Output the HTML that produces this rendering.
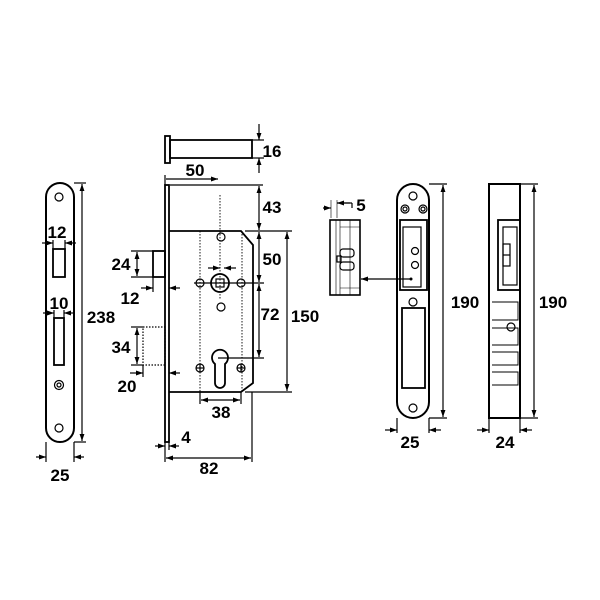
<!DOCTYPE html>
<html><head><style>body{margin:0;background:#fff}svg{display:block}</style></head><body>
<svg width="600" height="600" viewBox="0 0 600 600" xmlns="http://www.w3.org/2000/svg" font-family="Liberation Sans, Arial, sans-serif" font-weight="bold" font-size="17">
<defs>
<marker id="a" viewBox="0 0 10 10" refX="10" refY="5" markerWidth="7" markerHeight="7" markerUnits="userSpaceOnUse" orient="auto-start-reverse"><path d="M0,1.5 L10,5 L0,8.5 z" fill="#000"/></marker>
</defs>
<g fill="none" stroke="#000" stroke-width="1.2">
<!-- left faceplate -->
<rect x="46" y="183" width="28" height="259" rx="14" stroke-width="2"/>
<circle cx="59" cy="197" r="4"/><circle cx="59" cy="428" r="4"/>
<rect x="53" y="249" width="12" height="28" stroke-width="1.8"/>
<rect x="54" y="318" width="10" height="47" stroke-width="1.8"/>
<circle cx="59" cy="385" r="4.5"/><circle cx="59" cy="385" r="2"/>
<!-- dims left -->
<line x1="82" y1="184" x2="82" y2="441" marker-start="url(#a)" marker-end="url(#a)"/>
<line x1="74" y1="183" x2="86" y2="183"/><line x1="74" y1="442" x2="86" y2="442"/>
<line x1="42" y1="243" x2="53" y2="243" marker-end="url(#a)"/><line x1="76" y1="243" x2="65" y2="243" marker-end="url(#a)"/>
<line x1="53" y1="240" x2="53" y2="249"/><line x1="65" y1="240" x2="65" y2="249"/>
<line x1="43" y1="313" x2="54" y2="313" marker-end="url(#a)"/><line x1="75" y1="313" x2="64" y2="313" marker-end="url(#a)"/>
<line x1="54" y1="310" x2="54" y2="318"/><line x1="64" y1="310" x2="64" y2="318"/>
<line x1="46" y1="442" x2="46" y2="462"/><line x1="74" y1="442" x2="74" y2="462"/>
<line x1="36" y1="457" x2="46" y2="457" marker-end="url(#a)"/><line x1="84" y1="457" x2="74" y2="457" marker-end="url(#a)"/>
<!-- bolt top -->
<rect x="165" y="136" width="5" height="27" stroke-width="1.8"/>
<rect x="170" y="140" width="82" height="18" stroke-width="1.8"/>
<line x1="252" y1="140" x2="264" y2="140"/><line x1="252" y1="158" x2="264" y2="158"/>
<line x1="259" y1="124" x2="259" y2="140" marker-end="url(#a)"/><line x1="259" y1="173" x2="259" y2="158" marker-end="url(#a)"/>
<!-- main lock -->
<rect x="165" y="185" width="4" height="257" stroke-width="1.8"/>
<path d="M169,231 H241 L253,245 V383 L241,392 H169" stroke-width="1.8"/>
<rect x="153" y="251" width="12" height="26" stroke-width="1.8"/>
<rect x="143" y="327" width="22" height="38" stroke-dasharray="1.5,1.5"/>
<g stroke-dasharray="1.5,1.5" stroke-width="0.9">
<line x1="200" y1="231" x2="200" y2="392"/><line x1="242" y1="231" x2="242" y2="392"/>
<line x1="220" y1="195" x2="220" y2="300"/>
</g>
<circle cx="221" cy="237" r="4"/><circle cx="221" cy="307" r="4"/>
<circle cx="220" cy="283" r="9" stroke-width="1.8"/><rect x="216" y="279" width="8" height="8"/>
<circle cx="200" cy="283" r="4"/><circle cx="241" cy="283" r="4"/>
<circle cx="200" cy="368" r="4"/><circle cx="241" cy="368" r="4"/>
<line x1="196" y1="368" x2="204" y2="368"/><line x1="200" y1="364" x2="200" y2="372"/>
<line x1="237" y1="368" x2="245" y2="368"/><line x1="241" y1="364" x2="241" y2="372"/>
<line x1="194" y1="283" x2="264" y2="283"/>
<path d="M215,364 A8,8 0 1 1 225,364 V383 A5,5 0 0 1 215,383 Z" stroke-width="1.8"/>
<line x1="218" y1="358" x2="264" y2="358"/>
<!-- dims main -->
<line x1="165" y1="175" x2="165" y2="185"/>
<line x1="166" y1="179" x2="218" y2="179" marker-end="url(#a)"/>
<line x1="170" y1="185" x2="263" y2="185"/>
<line x1="245" y1="231" x2="292" y2="231"/><line x1="245" y1="392" x2="292" y2="392"/>
<line x1="259" y1="186" x2="259" y2="230" marker-start="url(#a)" marker-end="url(#a)"/>
<line x1="259" y1="232" x2="259" y2="282" marker-start="url(#a)" marker-end="url(#a)"/>
<line x1="259" y1="284" x2="259" y2="357" marker-start="url(#a)" marker-end="url(#a)"/>
<line x1="287" y1="232" x2="287" y2="391" marker-start="url(#a)" marker-end="url(#a)"/>
<line x1="208" y1="268" x2="220" y2="268" marker-end="url(#a)"/><line x1="236" y1="268" x2="224" y2="268" marker-end="url(#a)"/>
<line x1="131" y1="251" x2="153" y2="251"/><line x1="131" y1="277" x2="153" y2="277"/>
<line x1="137" y1="252" x2="137" y2="276" marker-start="url(#a)" marker-end="url(#a)"/>
<line x1="153" y1="277" x2="153" y2="292"/>
<line x1="141" y1="288" x2="153" y2="288" marker-end="url(#a)"/><line x1="180" y1="288" x2="169" y2="288" marker-end="url(#a)"/>
<line x1="131" y1="327" x2="143" y2="327"/><line x1="131" y1="365" x2="143" y2="365"/>
<line x1="137" y1="328" x2="137" y2="364" marker-start="url(#a)" marker-end="url(#a)"/>
<line x1="143" y1="365" x2="143" y2="377"/>
<line x1="130" y1="373" x2="143" y2="373" marker-end="url(#a)"/><line x1="180" y1="373" x2="169" y2="373" marker-end="url(#a)"/>
<line x1="200" y1="392" x2="200" y2="404"/><line x1="241" y1="392" x2="241" y2="404"/>
<line x1="201" y1="400" x2="240" y2="400" marker-start="url(#a)" marker-end="url(#a)"/>
<line x1="165" y1="442" x2="165" y2="462"/><line x1="169" y1="442" x2="169" y2="450"/>
<line x1="155" y1="446" x2="165" y2="446" marker-end="url(#a)"/><line x1="179" y1="446" x2="169" y2="446" marker-end="url(#a)"/>
<line x1="252" y1="392" x2="252" y2="462"/>
<line x1="166" y1="458" x2="251" y2="458" marker-start="url(#a)" marker-end="url(#a)"/>
<!-- side small -->
<rect x="330" y="220" width="30" height="75" stroke-width="1.6"/>
<line x1="336" y1="220" x2="336" y2="295" stroke-width="0.6"/><line x1="340" y1="220" x2="340" y2="295" stroke-width="0.6"/>
<line x1="350" y1="220" x2="350" y2="295" stroke-width="0.6"/><line x1="340" y1="227" x2="360" y2="227" stroke-width="0.6"/><line x1="340" y1="288" x2="360" y2="288" stroke-width="0.6"/>
<rect x="340" y="249" width="14" height="8" rx="3"/><rect x="340" y="262" width="14" height="8" rx="3"/>
<rect x="337" y="256" width="4" height="6"/>
<line x1="331" y1="200" x2="331" y2="218" stroke-width="0.6"/><line x1="337" y1="200" x2="337" y2="218" stroke-width="0.6"/>
<line x1="337" y1="203" x2="352" y2="203"/><line x1="352" y1="203" x2="352" y2="208"/>
<line x1="350" y1="203" x2="337" y2="203" marker-end="url(#a)"/>
<line x1="323" y1="208" x2="331" y2="208" marker-end="url(#a)"/>
<line x1="411" y1="279" x2="361" y2="279" marker-end="url(#a)"/>
<!-- striker -->
<path d="M397,200 A16,16 0 0 1 429,200 V402 A16,16 0 0 1 397,402 Z" stroke-width="2"/>
<circle cx="413" cy="196" r="4"/><circle cx="405" cy="209" r="4"/><circle cx="423" cy="209" r="4"/>
<circle cx="405" cy="209" r="2"/><circle cx="423" cy="209" r="2"/>
<rect x="400" y="220" width="27" height="70" stroke-width="1.8"/>
<rect x="403" y="227" width="18" height="60"/>
<circle cx="415" cy="251" r="3.5"/><circle cx="415" cy="265" r="3.5"/>
<circle cx="413" cy="302" r="4"/>
<rect x="402" y="308" width="23" height="80" stroke-width="1.8"/>
<circle cx="413" cy="408" r="4"/>
<line x1="429" y1="184" x2="447" y2="184"/><line x1="429" y1="418" x2="447" y2="418"/>
<line x1="443" y1="185" x2="443" y2="417" marker-start="url(#a)" marker-end="url(#a)"/>
<line x1="397" y1="418" x2="397" y2="433"/><line x1="429" y1="418" x2="429" y2="433"/>
<line x1="385" y1="430" x2="397" y2="430" marker-end="url(#a)"/><line x1="441" y1="430" x2="429" y2="430" marker-end="url(#a)"/>
<!-- right box -->
<rect x="489" y="184" width="31" height="234" stroke-width="2"/>
<rect x="498" y="220" width="22" height="70" stroke-width="1.8"/>
<rect x="503" y="227" width="14" height="58"/>
<rect x="503" y="244" width="7" height="22"/><line x1="503" y1="255" x2="510" y2="255"/>
<path d="M492,302 H518 V320 H492 M492,328 H518 V345 H492 M492,352 H518 V365 H492 M492,372 H518 V385 H492" stroke-width="0.9"/>
<circle cx="511" cy="327" r="4"/>
<line x1="520" y1="184" x2="538" y2="184"/><line x1="520" y1="418" x2="538" y2="418"/>
<line x1="534" y1="185" x2="534" y2="417" marker-start="url(#a)" marker-end="url(#a)"/>
<line x1="489" y1="418" x2="489" y2="433"/><line x1="520" y1="418" x2="520" y2="433"/>
<line x1="477" y1="430" x2="489" y2="430" marker-end="url(#a)"/><line x1="532" y1="430" x2="520" y2="430" marker-end="url(#a)"/>
</g>
<circle cx="411" cy="279" r="1.5" fill="#000"/>
<g fill="#000" text-anchor="middle">
<text x="57" y="238">12</text><text x="59" y="309">10</text><text x="101" y="323">238</text><text x="60" y="481">25</text>
<text x="272" y="157">16</text><text x="195" y="176">50</text>
<text x="272" y="213">43</text><text x="272" y="265">50</text><text x="270" y="320">72</text><text x="305" y="322">150</text>
<text x="121" y="270">24</text><text x="130" y="304">12</text><text x="121" y="353">34</text><text x="127" y="392">20</text>
<text x="221" y="418">38</text><text x="186" y="443">4</text><text x="209" y="474">82</text>
<text x="361" y="211">5</text><text x="465" y="308">190</text><text x="410" y="448">25</text>
<text x="553" y="308">190</text><text x="505" y="448">24</text>
</g>
</svg>
</body></html>
